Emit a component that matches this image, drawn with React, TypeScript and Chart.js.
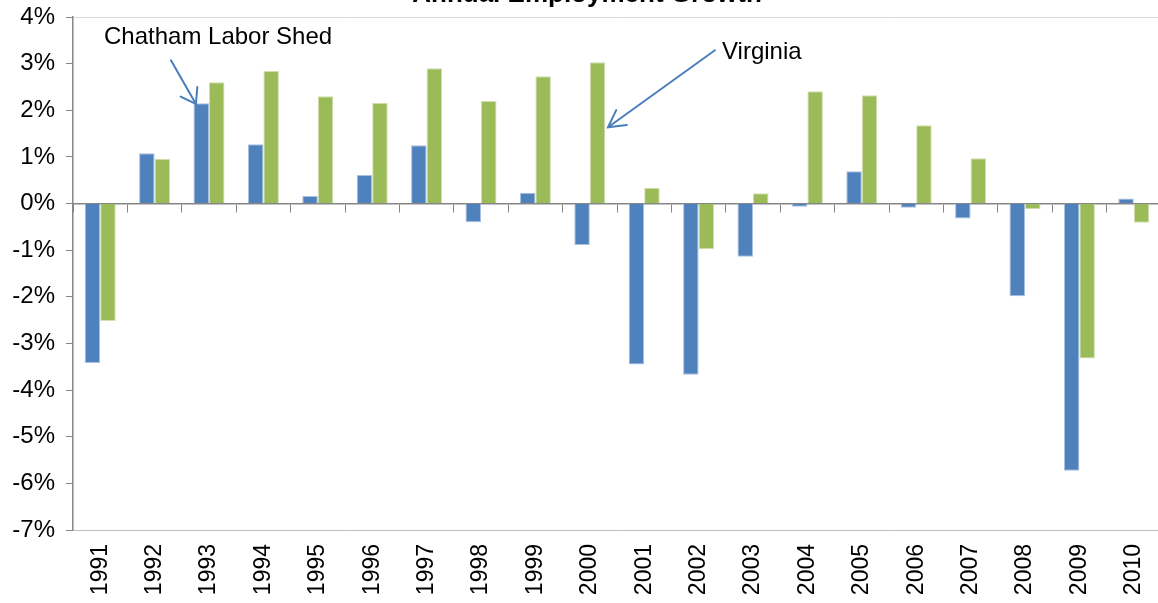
import React, { useEffect, useRef } from 'react';
import { Chart, registerables } from 'chart.js';

Chart.register(...registerables);

// ---- data ----
const years = ['1991', '1992', '1993', '1994', '1995', '1996', '1997', '1998', '1999', '2000',
  '2001', '2002', '2003', '2004', '2005', '2006', '2007', '2008', '2009', '2010'];
const chathamLaborShed = [-3.42, 1.08, 2.15, 1.27, 0.16, 0.61, 1.25, -0.4, 0.23, -0.89,
  -3.45, -3.67, -1.14, -0.07, 0.69, -0.09, -0.32, -1.99, -5.73, 0.11];
const virginia = [-2.52, 0.96, 2.6, 2.84, 2.3, 2.16, 2.9, 2.2, 2.73, 3.03,
  0.34, -0.98, 0.22, 2.41, 2.32, 1.68, 0.97, -0.12, -3.32, -0.41];
const yMin = -7;
const yMax = 4;
const titleText = 'Annual Employment Growth';

// annotation anchors in data units (category index, value)
const calloutTexts = [
  { text: 'Chatham Labor Shed', index: 0.07, value: 3.415 },
  { text: 'Virginia', index: 11.43, value: 3.09 },
];
const calloutArrows = [
  { fromIndex: 1.30, fromValue: 3.07, toIndex: 1.76, toValue: 2.135, head: 17, spread: 0.6 },
  { fromIndex: 11.30, fromValue: 3.286, toIndex: 9.335, toValue: 1.636, head: 19, spread: 0.5 },
];

const FONT = '"Liberation Sans", Arial, sans-serif';
const AXIS_GRAY = '#868686';

const zeroPadding = (scale: any) => {
  scale.paddingTop = 0;
  scale.paddingBottom = 0;
  scale.paddingLeft = 0;
  scale.paddingRight = 0;
};

const annotationPlugin = {
  id: 'callouts',
  afterDraw(chart: any) {
    const { ctx } = chart;
    const xs = chart.scales.x;
    const ys = chart.scales.y;
    ctx.save();
    // title (mostly above the visible area)
    ctx.fillStyle = '#000';
    ctx.font = `bold 26px ${FONT}`;
    ctx.textAlign = 'center';
    ctx.textBaseline = 'alphabetic';
    ctx.fillText(titleText, 587, 2);

    ctx.font = `24px ${FONT}`;
    ctx.textAlign = 'left';
    for (const t of calloutTexts) {
      ctx.fillText(t.text, xs.getPixelForValue(t.index), ys.getPixelForValue(t.value));
    }
    ctx.strokeStyle = '#4A7EBB';
    ctx.lineWidth = 2;
    ctx.lineCap = 'round';
    for (const a of calloutArrows) {
      const x1 = xs.getPixelForValue(a.fromIndex);
      const y1 = ys.getPixelForValue(a.fromValue);
      const x2 = xs.getPixelForValue(a.toIndex);
      const y2 = ys.getPixelForValue(a.toValue);
      ctx.beginPath();
      ctx.moveTo(x1, y1);
      ctx.lineTo(x2, y2);
      ctx.stroke();
      const ang = Math.atan2(y1 - y2, x1 - x2);
      ctx.beginPath();
      ctx.moveTo(x2 + a.head * Math.cos(ang - a.spread), y2 + a.head * Math.sin(ang - a.spread));
      ctx.lineTo(x2, y2);
      ctx.lineTo(x2 + a.head * Math.cos(ang + a.spread), y2 + a.head * Math.sin(ang + a.spread));
      ctx.stroke();
    }
    ctx.restore();
  },
};

export default function App() {
  const ref = useRef<HTMLCanvasElement | null>(null);

  useEffect(() => {
    if (!ref.current) return;
    const chart = new Chart(ref.current, {
      type: 'bar',
      data: {
        labels: years,
        datasets: [
          {
            label: 'Chatham Labor Shed',
            data: chathamLaborShed,
            backgroundColor: '#4F81BD',
            borderColor: '#A9C1E0',
            borderWidth: 1,
          },
          {
            label: 'Virginia',
            data: virginia,
            backgroundColor: '#9BBB59',
            borderColor: '#CFDFB0',
            borderWidth: 1,
          },
        ],
      },
      options: {
        responsive: false,
        animation: false,
        datasets: { bar: { categoryPercentage: 0.57, barPercentage: 1 } },
        layout: { padding: { top: 17, left: 0, right: 0, bottom: 0 } },
        plugins: {
          legend: { display: false },
          tooltip: { enabled: false },
          title: { display: false },
        },
        scales: {
          x: {
            type: 'category',
            position: 'bottom',
            offset: true,
            grid: { drawOnChartArea: false, drawTicks: false },
            border: { display: true, color: '#BFBFBF', width: 1 },
            ticks: {
              autoSkip: false,
              minRotation: 90,
              maxRotation: 90,
              padding: 14,
              color: '#000',
              font: { family: FONT, size: 23 },
            },
            afterFit(scale: any) { scale.height = 73; zeroPadding(scale); },
          },
          xTop: {
            type: 'category',
            axis: 'x',
            position: 'top',
            offset: true,
            grid: { drawOnChartArea: false, drawTicks: false },
            border: { display: true, color: '#D9D9D9', width: 1 },
            ticks: { display: false },
            afterFit(scale: any) { scale.height = 0; zeroPadding(scale); },
          },
          xZero: {
            type: 'category',
            axis: 'x',
            position: { y: 0 },
            offset: true,
            z: 1,
            grid: { drawOnChartArea: false, drawTicks: true, tickLength: 8, color: AXIS_GRAY, offset: true },
            border: { display: true, color: AXIS_GRAY, width: 1.5 },
            ticks: { display: false, autoSkip: false },
            afterFit(scale: any) { scale.height = 0; zeroPadding(scale); },
          },
          y: {
            type: 'linear',
            position: 'left',
            min: yMin,
            max: yMax,
            grid: { drawOnChartArea: false, drawTicks: true, tickLength: 7, color: AXIS_GRAY },
            border: { display: true, color: AXIS_GRAY, width: 1.5 },
            ticks: {
              stepSize: 1,
              padding: 11,
              color: '#000',
              font: { family: FONT, size: 24 },
              callback: (v: any) => `${v}%`,
            },
            afterFit(scale: any) { scale.width = 73; zeroPadding(scale); },
          },
        },
      } as any,
      plugins: [annotationPlugin],
    });
    return () => chart.destroy();
  }, []);

  return (
    <div style={{ position: 'absolute', left: 0, top: 0, width: 1158, height: 603, overflow: 'hidden', background: '#fff' }}>
      <canvas ref={ref} width={1161} height={603} style={{ display: 'block' }} />
    </div>
  );
}
